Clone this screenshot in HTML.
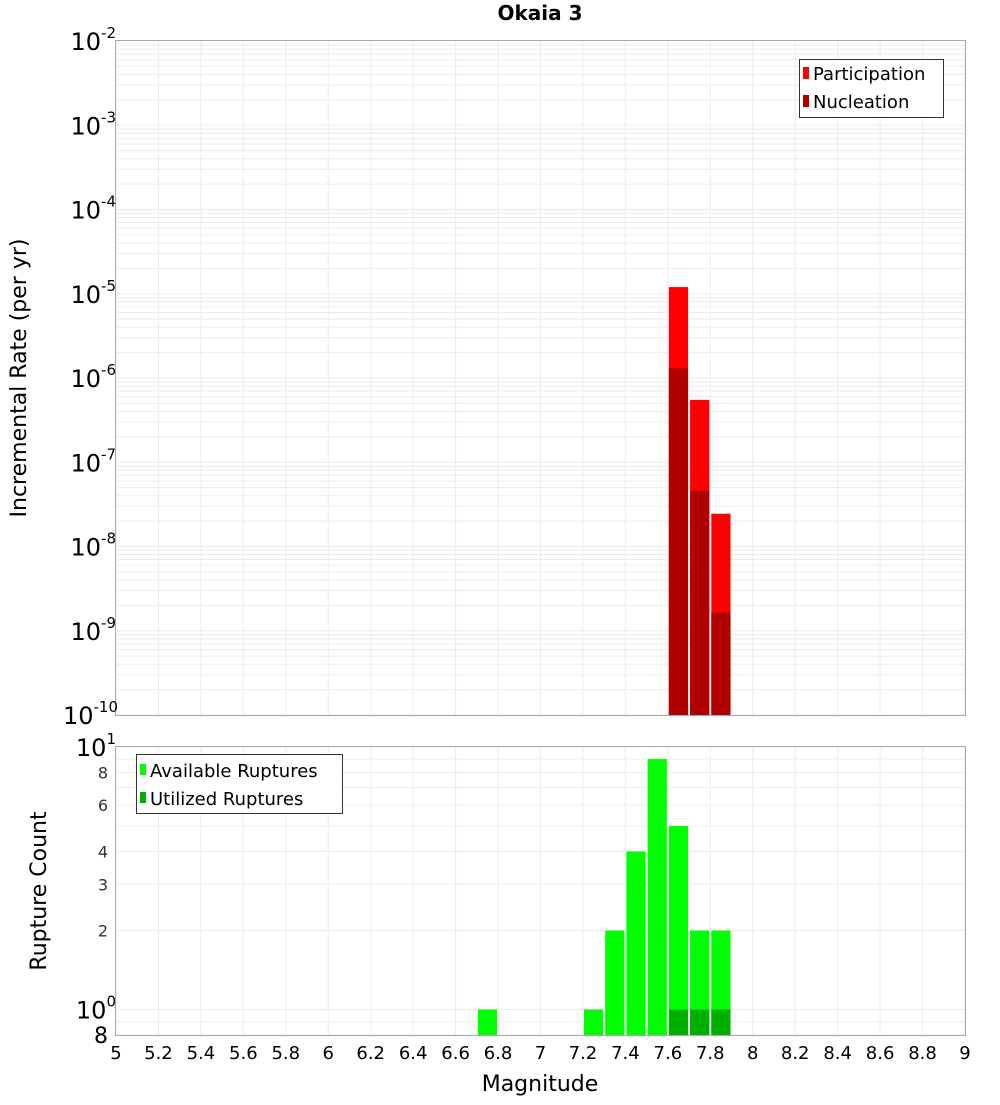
<!DOCTYPE html>
<html><head><meta charset="utf-8"><style>
body{margin:0;background:#fff;}
svg text{font-family:"DejaVu Sans","Liberation Sans",sans-serif;}
</style></head><body>
<svg id="c" width="1000" height="1100" xmlns="http://www.w3.org/2000/svg">
<text x="540" y="20" text-anchor="middle" font-size="20" font-weight="bold">Okaia 3</text>
<text transform="translate(26,378) rotate(-90)" text-anchor="middle" font-size="22">Incremental Rate (per yr)</text>
<text transform="translate(46,891) rotate(-90)" text-anchor="middle" font-size="22">Rupture Count</text>
<text x="540" y="1091" text-anchor="middle" font-size="22">Magnitude</text>
<g id="g"></g>
</svg>
<script>
const binCenters=[7.65,7.75,7.85];
const participation=[1.2e-5,5.5e-7,2.45e-8];
const nucleation=[1.3e-6,4.6e-8,1.65e-9];
const countBins=[6.75,7.25,7.35,7.45,7.55,7.65,7.75,7.85];
const available=[1,1,2,4,9,5,2,2];
const utilizedBins=[7.65,7.75,7.85];
const utilized=[1,1,1];
const xTicks=[5,5.2,5.4,5.6,5.8,6,6.2,6.4,6.6,6.8,7,7.2,7.4,7.6,7.8,8,8.2,8.4,8.6,8.8,9];
const topExps=[-2,-3,-4,-5,-6,-7,-8,-9,-10];
const botMinorTicks=[8,6,4,3,2];

const NS="http://www.w3.org/2000/svg";
const g=document.getElementById('g');
function el(t,a,txt){const e=document.createElementNS(NS,t);for(const k in a)e.setAttribute(k,a[k]);if(txt!==undefined)e.textContent=txt;g.appendChild(e);return e;}
const L=116,R=965,T1=41,B1=715,T2=747,B2=1035;
const X=v=>L+(v-5)/4*(R-L);
const Y1=v=>T1+(-2-Math.log10(v))*(B1-T1)/8;
const Y2=v=>T2+(1-Math.log10(v))*(B2-T2)/(1-Math.log10(0.8));

// top grid
for(let e=-10;e<-2;e++)for(let m=1;m<10;m++){const y=Y1(m*Math.pow(10,e));
 const l=el('line',{x1:L,x2:R,y1:y,y2:y,stroke:'#ebebeb','stroke-width':1});
 }
for(const t of xTicks){for(const[a,b]of[[T1,B1],[T2,B2]]){const l=el('line',{x1:X(t),x2:X(t),y1:a,y2:b,stroke:'#ebebeb'});
 }}
// bottom grid
for(const v of [0.8,0.9,1,2,3,4,5,6,7,8,9,10]){const y=Y2(v);const l=el('line',{x1:L,x2:R,y1:y,y2:y,stroke:'#ebebeb'});
 }

// top bars
binCenters.forEach((c,i)=>{
 let r=el('rect',{x:X(c-0.05)+1,y:Y1(participation[i]),width:X(c+0.05)-X(c-0.05)-2,height:B1-Y1(participation[i]),fill:'#ff0000'});
 
 r=el('rect',{x:X(c-0.05)+1,y:Y1(nucleation[i]),width:X(c+0.05)-X(c-0.05)-2,height:B1-Y1(nucleation[i]),fill:'#b00000'});
 
});
countBins.forEach((c,i)=>{
 const r=el('rect',{x:X(c-0.05)+1,y:Y2(available[i]),width:X(c+0.05)-X(c-0.05)-2,height:B2-Y2(available[i]),fill:'#00ff00'});
 
});
utilizedBins.forEach((c,i)=>{
 const r=el('rect',{x:X(c-0.05)+1,y:Y2(utilized[i]),width:X(c+0.05)-X(c-0.05)-2,height:B2-Y2(utilized[i]),fill:'#00b000'});
 
});
// frames
for(const[a,b]of[[T1,B1],[T2,B2]]){const f=el('rect',{x:L-0.5,y:a-0.5,width:R-L+1,height:b-a+1,fill:'none',stroke:'#aaaaaa'});
 }
// x ticks
for(const t of xTicks){const s=el('text',{x:X(t),y:1059,'text-anchor':'middle','font-size':18},String(t));
 }
// top y labels
for(const e of topExps){const y=Y1(Math.pow(10,e));
 const s=el('text',{x:108,y:y+9,'text-anchor':'end','font-size':24});
 
 const a=document.createElementNS(NS,'tspan');a.textContent='10';s.appendChild(a);
 const b=document.createElementNS(NS,'tspan');b.setAttribute('dy','-12');b.setAttribute('font-size','15');b.textContent=String(e);s.appendChild(b);
 s.setAttribute('x',e===-10?118:116);}
// bottom y labels
for(const[v,sup]of[[10,'1'],[1,'0']]){const y=Y2(v);
 const s=el('text',{x:116,y:y+9,'text-anchor':'end','font-size':24});
 
 const a=document.createElementNS(NS,'tspan');a.textContent='10';s.appendChild(a);
 const b=document.createElementNS(NS,'tspan');b.setAttribute('dy','-12');b.setAttribute('font-size','15');b.textContent=sup;s.appendChild(b);}
for(const v of botMinorTicks){const s=el('text',{x:108,y:Y2(v)+6,'text-anchor':'end','font-size':16,fill:'#333'},String(v));
 }
{const s=el('text',{x:108,y:Y2(0.8)+8,'text-anchor':'end','font-size':22},'8');
 }
</script>
<svg width="1000" height="1100" style="position:absolute;left:0;top:0" xmlns="http://www.w3.org/2000/svg">
<g>
<rect x="799.5" y="59.5" width="144" height="58" fill="#fff" stroke="#333"/>
<rect x="803" y="67" width="6" height="12" fill="#ff0000"/>
<text x="813" y="80" font-size="18" font-family="DejaVu Sans,sans-serif">Participation</text>
<rect x="803" y="95" width="6" height="12" fill="#b00000"/>
<text x="813" y="108" font-size="18" font-family="DejaVu Sans,sans-serif">Nucleation</text>
</g>
<g>
<rect x="136.5" y="754.5" width="206" height="59" fill="#fff" stroke="#333"/>
<rect x="140" y="764" width="6" height="11" fill="#00ff00"/>
<text x="150" y="777" font-size="18" font-family="DejaVu Sans,sans-serif">Available Ruptures</text>
<rect x="140" y="792" width="6" height="11" fill="#00b000"/>
<text x="150" y="805" font-size="18" font-family="DejaVu Sans,sans-serif">Utilized Ruptures</text>
</g>
</svg>
</body></html>
